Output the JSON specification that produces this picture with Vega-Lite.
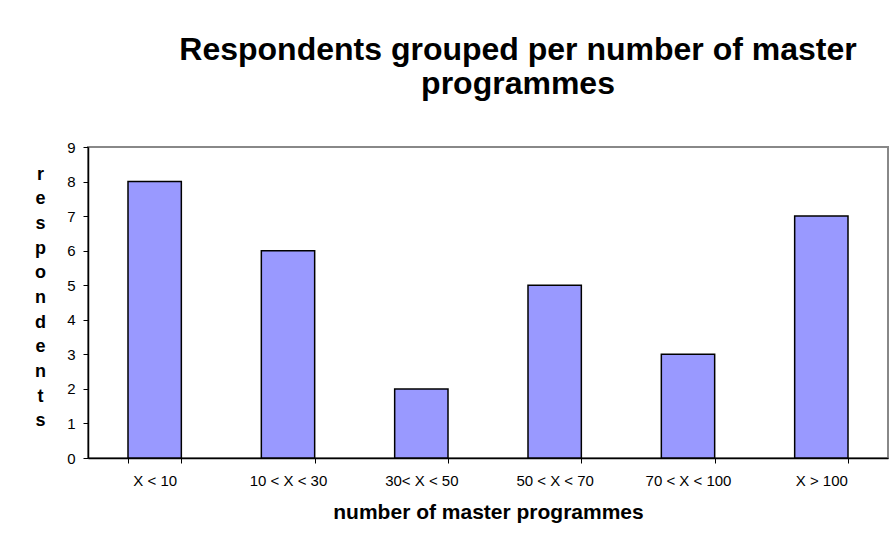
{
  "$schema": "https://vega.github.io/schema/vega-lite/v6.json",
  "autosize": {"type": "none"},
  "width": 800,
  "height": 311,
  "padding": {"left": 88, "top": 147, "right": 2, "bottom": 82},
  "background": "white",
  "title": {
    "text": ["Respondents grouped per number of master", "programmes"],
    "font": "Liberation Sans",
    "fontSize": 32,
    "fontWeight": "bold",
    "color": "black",
    "lineHeight": 34,
    "offset": 39,
    "dx": 30,
    "anchor": "middle"
  },
  "data": {
    "values": [
      {"range": "X < 10", "respondents": 8},
      {"range": "10 < X < 30", "respondents": 6},
      {"range": "30< X < 50", "respondents": 2},
      {"range": "50 < X < 70", "respondents": 5},
      {"range": "70 < X < 100", "respondents": 3},
      {"range": "X > 100", "respondents": 7}
    ]
  },
  "mark": {"type": "bar", "fill": "#9999FF", "stroke": "black", "strokeWidth": 1.5},
  "encoding": {
    "x": {
      "field": "range",
      "type": "nominal",
      "sort": null,
      "scale": {"paddingInner": 0.6, "paddingOuter": 0.3},
      "axis": {
        "title": "number of master programmes",
        "titleFont": "Liberation Sans",
        "titleFontSize": 21,
        "titleFontWeight": "bold",
        "titleColor": "black",
        "titlePadding": 13,
        "labelFont": "Liberation Sans",
        "labelFontSize": 15,
        "labelColor": "black",
        "labelAngle": 0,
        "labelPadding": 10,
        "tickBand": "extent",
        "tickSize": 5,
        "tickColor": "black",
        "domainColor": "black",
        "domainWidth": 1.5
      }
    },
    "y": {
      "field": "respondents",
      "type": "quantitative",
      "scale": {"domain": [0, 9], "nice": false},
      "axis": {
        "title": ["r", "e", "s", "p", "o", "n", "d", "e", "n", "t", "s"],
        "titleAngle": 0,
        "titleAlign": "center",
        "titleBaseline": "alphabetic",
        "titleX": -48,
        "titleY": 32,
        "titleLineHeight": 24.7,
        "titleFont": "Liberation Sans",
        "titleFontSize": 18,
        "titleFontWeight": "bold",
        "titleColor": "black",
        "values": [0, 1, 2, 3, 4, 5, 6, 7, 8, 9],
        "grid": false,
        "labelFont": "Liberation Sans",
        "labelFontSize": 15,
        "labelColor": "black",
        "labelPadding": 8,
        "tickSize": 5,
        "tickColor": "black",
        "domainColor": "black",
        "domainWidth": 1.5
      }
    }
  },
  "config": {
    "view": {"stroke": "#888888", "strokeWidth": 2}
  }
}
